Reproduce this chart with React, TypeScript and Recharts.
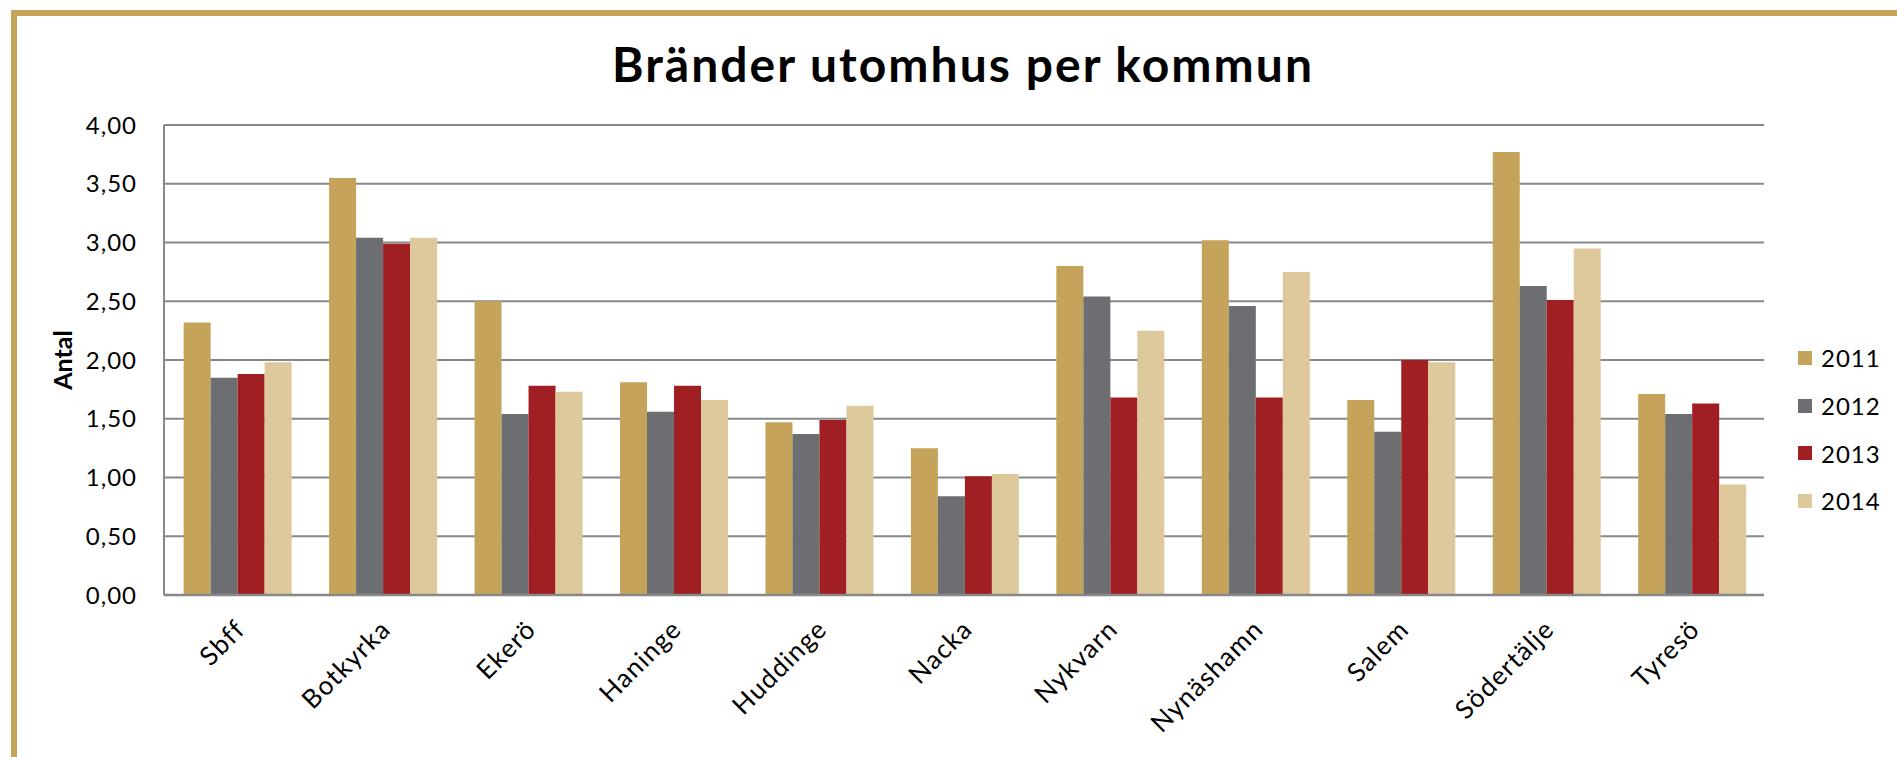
import React from 'react';
import { BarChart, Bar, XAxis, YAxis, CartesianGrid, Legend, Label } from 'recharts';

const categories = ['Sbff', 'Botkyrka', 'Ekerö', 'Haninge', 'Huddinge', 'Nacka', 'Nykvarn', 'Nynäshamn', 'Salem', 'Södertälje', 'Tyresö'];
const years = ['2011', '2012', '2013', '2014'];
const values2011 = [2.32, 3.55, 2.5, 1.81, 1.47, 1.25, 2.8, 3.02, 1.66, 3.77, 1.71];
const values2012 = [1.85, 3.04, 1.54, 1.56, 1.37, 0.84, 2.54, 2.46, 1.39, 2.63, 1.54];
const values2013 = [1.88, 2.99, 1.78, 1.78, 1.49, 1.01, 1.68, 1.68, 2.0, 2.51, 1.63];
const values2014 = [1.98, 3.04, 1.73, 1.66, 1.61, 1.03, 2.25, 2.75, 1.98, 2.95, 0.94];
const yTicks = [0, 0.5, 1, 1.5, 2, 2.5, 3, 3.5, 4];

const colors = ['#C5A35A', '#6D6E71', '#A01F22', '#DDC99B'];
const font = 'Lato, "Open Sans", sans-serif';

const series = [values2011, values2012, values2013, values2014];
const data = categories.map((name, i) => {
  const row: Record<string, string | number> = { name };
  years.forEach((yr, s) => {
    row[yr] = series[s][i];
  });
  return row;
});

const CategoryTick = (props: any) => {
  const { x, y, payload } = props;
  const ax = x + 10;
  const ay = y + 28;
  return (
    <text
      x={ax}
      y={ay}
      transform={`rotate(-45 ${ax} ${ay})`}
      textAnchor="end"
      fontSize={26}
      letterSpacing={1.2}
      fontFamily={font}
      fill="#000"
    >
      {payload.value}
    </text>
  );
};

const renderLegend = () => (
  <div style={{ fontFamily: font }}>
    {years.map((yr, i) => (
      <div key={yr} style={{ display: 'flex', alignItems: 'center', height: 47.7 }}>
        <span style={{ width: 14, height: 14, background: colors[i], marginRight: 9, display: 'inline-block' }} />
        <span style={{ fontSize: 24, letterSpacing: 1, color: '#000' }}>{yr}</span>
      </div>
    ))}
  </div>
);

const App: React.FC = () => {
  return (
    <div style={{ position: 'relative', width: 1897, height: 757, overflow: 'hidden', background: '#fff' }}>
      <style>{'body{margin:0}'}</style>
      {/* gold frame */}
      <div style={{ position: 'absolute', left: 11, top: 10, width: 1886, height: 6, background: '#C5A45A' }} />
      <div style={{ position: 'absolute', left: 11, top: 10, width: 6, height: 747, background: '#C5A45A' }} />

      <svg width={1897} height={110} style={{ position: 'absolute', left: 0, top: 0 }}>
        <text
          x={962}
          y={82}
          textAnchor="middle"
          fontSize={48}
          fontWeight="bold"
          fontFamily={font}
          fill="#000"
          textLength={700}
        >
          Bränder utomhus per kommun
        </text>
      </svg>

      <BarChart
        width={1897}
        height={757}
        data={data}
        margin={{ top: 125, right: 133, left: 0, bottom: 0 }}
        barCategoryGap="13.5%"
        barGap={0}
        style={{ position: 'absolute', left: 0, top: 0 }}
      >
        <CartesianGrid vertical={false} stroke="#888" strokeWidth={2} />
        <XAxis
          dataKey="name"
          interval={0}
          height={162}
          tickLine={false}
          axisLine={{ stroke: '#888', strokeWidth: 2.5 }}
          tick={<CategoryTick />}
        />
        <YAxis
          width={164}
          domain={[0, 4]}
          ticks={yTicks}
          interval={0}
          tickLine={false}
          tickSize={0}
          tickMargin={27}
          axisLine={{ stroke: '#888', strokeWidth: 2 }}
          tickFormatter={(v: number) => v.toFixed(2).replace('.', ',')}
          tick={{ fontSize: 24, letterSpacing: 1, fill: '#000', fontFamily: font }}
        >
          <Label
            content={() => (
              <text
                x={62}
                y={360}
                transform="rotate(-90 62 360)"
                textAnchor="middle"
                dominantBaseline="central"
                fontSize={25}
                fontWeight="bold"
                fontFamily={font}
                fill="#000"
              >
                Antal
              </text>
            )}
          />
        </YAxis>
        <Legend
          align="center"
          verticalAlign="middle"
          content={renderLegend}
          wrapperStyle={{ left: 1798, top: 334, width: 95 }}
        />
        {years.map((yr, i) => (
          <Bar key={yr} dataKey={yr} fill={colors[i]} isAnimationActive={false} />
        ))}
      </BarChart>
    </div>
  );
};

export default App;
